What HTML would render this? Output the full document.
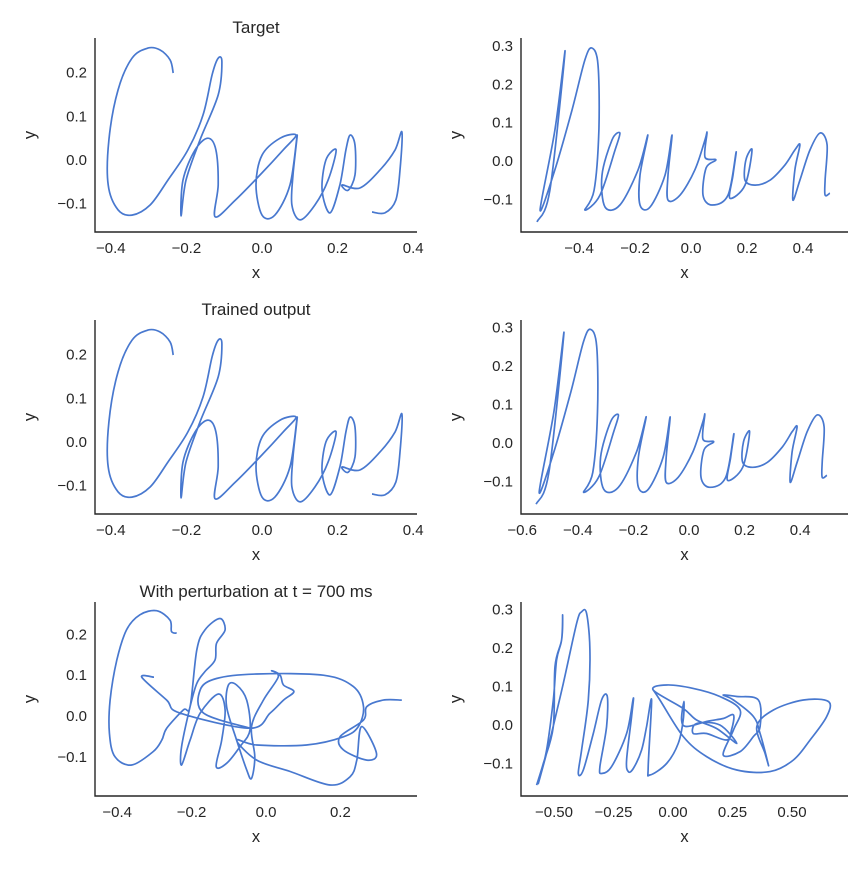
<!DOCTYPE html>
<html><head><meta charset="utf-8"><style>
body{margin:0;background:#fff}
svg text{font-family:"Liberation Sans","DejaVu Sans",sans-serif;fill:#262626}
</style></head><body>
<svg id="c" width="864" height="864" viewBox="0 0 864 864"></svg>
<script>
// Target "Chaos" (x, y)
const chaosX=[-0.235,-0.243,-0.270,-0.302,-0.344,-0.381,-0.405,-0.407,-0.381,-0.344,-0.296,-0.249,-0.196,-0.156,-0.132,-0.116,-0.106,-0.116,-0.164,-0.201,-0.214,-0.209,-0.177,-0.143,-0.122,-0.116,-0.124,-0.071,-0.005,0.056,0.090,0.048,0.000,-0.016,0.000,0.034,0.074,0.093,0.082,0.079,0.101,0.140,0.175,0.196,0.169,0.159,0.180,0.206,0.222,0.233,0.246,0.246,0.228,0.212,0.259,0.312,0.352,0.370,0.365,0.354,0.325,0.291];
const chaosY=[0.199,0.229,0.252,0.256,0.233,0.160,0.046,-0.057,-0.114,-0.126,-0.103,-0.046,0.023,0.103,0.195,0.233,0.224,0.149,0.046,-0.046,-0.128,-0.046,0.023,0.050,0.023,-0.057,-0.130,-0.092,-0.034,0.023,0.057,0.050,0.011,-0.057,-0.126,-0.126,-0.057,0.057,-0.034,-0.103,-0.137,-0.103,-0.046,0.023,0.000,-0.069,-0.121,-0.057,0.023,0.057,0.034,-0.034,-0.069,-0.057,-0.064,-0.023,0.023,0.064,-0.023,-0.092,-0.121,-0.119];
// Target "Neuron"
const neuronX=[-0.550,-0.504,-0.450,-0.486,-0.539,-0.486,-0.425,-0.379,-0.354,-0.332,-0.329,-0.346,-0.379,-0.325,-0.271,-0.254,-0.282,-0.318,-0.307,-0.254,-0.189,-0.154,-0.182,-0.182,-0.146,-0.093,-0.068,-0.082,-0.082,-0.039,0.014,0.050,0.057,0.050,0.089,0.054,0.043,0.075,0.132,0.161,0.150,0.139,0.193,0.218,0.196,0.193,0.229,0.282,0.336,0.371,0.389,0.371,0.364,0.389,0.425,0.461,0.486,0.479,0.479,0.496];
const neuronY=[-0.159,-0.076,0.285,0.081,-0.128,-0.023,0.133,0.264,0.295,0.251,0.081,-0.076,-0.128,-0.089,0.029,0.073,0.055,-0.037,-0.120,-0.115,-0.023,0.068,-0.037,-0.115,-0.120,-0.037,0.068,-0.037,-0.102,-0.089,-0.023,0.055,0.073,0.010,0.003,-0.018,-0.089,-0.115,-0.089,0.023,-0.037,-0.097,-0.063,0.029,0.003,-0.050,-0.063,-0.050,-0.010,0.029,0.042,-0.023,-0.102,-0.050,0.029,0.073,0.042,-0.050,-0.089,-0.084];
// Perturbed "Chaos" (null = pen break)
const pertChaosX=[-0.240,-0.254,-0.258,-0.294,-0.339,-0.375,-0.401,-0.419,-0.421,-0.406,-0.361,-0.303,-0.280,-0.267,-0.222,-0.204,-0.186,-0.164,-0.124,-0.110,-0.133,-0.137,-0.164,-0.186,-0.204,-0.227,-0.227,-0.204,-0.177,-0.128,-0.110,-0.119,-0.134,-0.106,-0.070,-0.043,-0.052,-0.079,-0.101,-0.106,-0.079,-0.052,-0.039,-0.030,-0.039,-0.007,0.033,0.015,0.038,0.047,0.075,0.047,0.011,-0.043,-0.231,-0.267,-0.334,-0.301,null,-0.043,-0.168,-0.177,-0.133,-0.025,0.154,0.235,0.262,0.248,0.208,0.109,-0.025,-0.079,-0.025,0.065,0.172,0.226,0.244,0.257,0.297,0.271,0.208,0.199,0.262,0.271,0.315,0.365];
const pertChaosY=[0.203,0.207,0.235,0.258,0.248,0.211,0.137,0.039,-0.042,-0.100,-0.120,-0.087,-0.059,-0.030,0.015,0.023,0.162,0.211,0.239,0.211,0.178,0.137,0.109,0.080,0.023,-0.075,-0.120,-0.059,0.007,0.054,0.015,-0.059,-0.124,-0.116,-0.075,-0.034,0.039,0.076,0.076,0.023,-0.059,-0.132,-0.153,-0.100,-0.026,0.039,0.096,0.111,0.100,0.076,0.060,0.039,0.007,-0.030,0.007,0.039,0.095,0.095,null,-0.030,0.007,0.064,0.092,0.103,0.100,0.072,0.023,-0.026,-0.051,-0.071,-0.071,-0.059,-0.108,-0.136,-0.169,-0.149,-0.108,-0.026,-0.092,-0.108,-0.083,-0.051,-0.010,0.023,0.039,0.039];
// Perturbed "Neuron"
const pertNeuronX=[-0.573,-0.545,-0.503,-0.496,-0.468,-0.464,-0.468,-0.489,-0.503,-0.531,-0.566,-0.517,-0.461,-0.405,-0.384,-0.363,-0.349,-0.356,-0.384,-0.398,-0.377,-0.335,-0.300,-0.276,-0.279,-0.307,-0.300,-0.258,-0.195,-0.167,-0.174,-0.195,-0.188,-0.167,-0.132,-0.111,-0.090,-0.104,-0.097,-0.027,0.022,0.043,0.046,0.036,0.057,0.141,0.211,0.254,0.246,0.225,0.141,0.085,0.099,0.197,0.268,0.183,0.099,0.043,-0.083,-0.027,0.085,0.197,0.282,0.254,0.211,0.282,0.338,0.366,0.359,0.268,0.211,0.254,0.338,0.366,0.401,0.387,0.352,0.422,0.548,0.653,0.646,0.576,0.506,0.408,0.268,0.141,0.043,-0.055,-0.083];
const pertNeuronY=[-0.156,-0.100,-0.004,0.152,0.221,0.286,0.221,0.169,0.065,-0.065,-0.152,-0.039,0.108,0.264,0.294,0.290,0.195,0.065,-0.065,-0.126,-0.117,-0.022,0.065,0.074,-0.004,-0.108,-0.126,-0.108,-0.022,0.069,0.022,-0.091,-0.121,-0.113,-0.065,-0.004,0.065,-0.108,-0.130,-0.100,-0.048,0.013,0.061,0.013,-0.004,0.009,0.017,0.026,-0.013,-0.039,-0.022,-0.022,0.004,0.000,-0.048,-0.009,0.013,0.043,0.091,0.104,0.095,0.074,0.039,-0.013,-0.078,-0.069,-0.030,-0.004,0.065,0.074,0.078,0.065,0.022,-0.022,-0.104,-0.074,-0.004,0.039,0.065,0.061,0.022,-0.039,-0.091,-0.121,-0.117,-0.082,-0.030,0.065,0.091];

const xt1=[-0.4,-0.2,0,0.2,0.4], yt1=[-0.1,0,0.1,0.2];
const xt2=[-0.4,-0.2,0,0.2,0.4], yt2=[-0.1,0,0.1,0.2,0.3];
const xt4=[-0.6,-0.4,-0.2,0,0.2,0.4];
const xt5=[-0.4,-0.2,0,0.2];
const xt6=[-0.5,-0.25,0,0.25,0.5];

const NS='http://www.w3.org/2000/svg';
const svg=document.getElementById('c');
function mk(tag,at,parent){const e=document.createElementNS(NS,tag);for(const k in at)e.setAttribute(k,at[k]);(parent||svg).appendChild(e);return e;}
function fmt(v,d){const s=Math.abs(v).toFixed(d);return (v<0?'\u2212':'')+s;}

function panel(name,L,R,T,B,x0,sx,y0,sy,xs,ys,xt,yt,dec,title){
  const g=mk('g',{});
  
  
  const X=v=>x0+v*sx, Y=v=>y0-v*sy;
  // line
  let d='';let seg=[];
  const segs=[];
  for(let i=0;i<xs.length;i++){if(xs[i]===null){if(seg.length)segs.push(seg);seg=[];}else seg.push([X(xs[i]),Y(ys[i])]);}
  if(seg.length)segs.push(seg);
  segs.forEach(p=>{
    d+='M'+p[0][0].toFixed(1)+','+p[0][1].toFixed(1);
    for(let i=0;i<p.length-1;i++){
      const p0=p[Math.max(0,i-1)],p1=p[i],p2=p[i+1],p3=p[Math.min(p.length-1,i+2)];
      const c1=[p1[0]+(p2[0]-p0[0])/6,p1[1]+(p2[1]-p0[1])/6];
      const c2=[p2[0]-(p3[0]-p1[0])/6,p2[1]-(p3[1]-p1[1])/6];
      d+='C'+c1[0].toFixed(1)+','+c1[1].toFixed(1)+' '+c2[0].toFixed(1)+','+c2[1].toFixed(1)+' '+p2[0].toFixed(1)+','+p2[1].toFixed(1);
    }
  });
  const ln=mk('path',{d:d,fill:'none',stroke:'#4878cf','stroke-width':1.7,'stroke-linejoin':'round'},g);
  
  
  const sp=mk('path',{d:`M${L},${T}V${B}H${R}`,fill:'none',stroke:'#262626','stroke-width':1.4},g);
  
  
  xt.forEach(v=>{const t=mk('text',{x:X(v),y:B+21,'font-size':15,'text-anchor':'middle'},g);t.textContent=fmt(v,dec);
    
    });
  yt.forEach(v=>{const t=mk('text',{x:L-8,y:Y(v)+5,'font-size':15,'text-anchor':'end'},g);t.textContent=fmt(v,1);
    
    });
  const xl=mk('text',{x:(L+R)/2,y:B+46,'font-size':16.5,'text-anchor':'middle'},g);xl.textContent='x';
  
  
  const cy=(T+B)/2;
  const yl=mk('text',{x:L-60,y:cy,'font-size':16.5,'text-anchor':'middle',transform:`rotate(-90 ${L-60} ${cy})`},g);yl.textContent='y';
  
  
  if(title){const tt=mk('text',{x:(L+R)/2,y:T-5,'font-size':17,'text-anchor':'middle'},g);tt.textContent=title;
    
    }
}
panel('target-chaos-panel',95,417,38,232,262,378,160,437,chaosX,chaosY,xt1,yt1,1,'Target');
panel('target-neuron-panel',521,848,38,232,691,280,161,383,neuronX,neuronY,xt2,yt2,1,null);
panel('trained-chaos-panel',95,417,320,514,262,378,442,437,chaosX,chaosY,xt1,yt1,1,'Trained output');
panel('trained-neuron-panel',521,848,320,514,689,278,443,385,neuronX,neuronY,xt4,yt2,1,null);
panel('perturbed-chaos-panel',95,417,602,796,266,372,716,408,pertChaosX,pertChaosY,xt5,yt1,1,'With perturbation at t = 700 ms');
panel('perturbed-neuron-panel',521,848,602,796,673,238,725,385,pertNeuronX,pertNeuronY,xt6,yt2,2,null);
</script>
</body></html>
